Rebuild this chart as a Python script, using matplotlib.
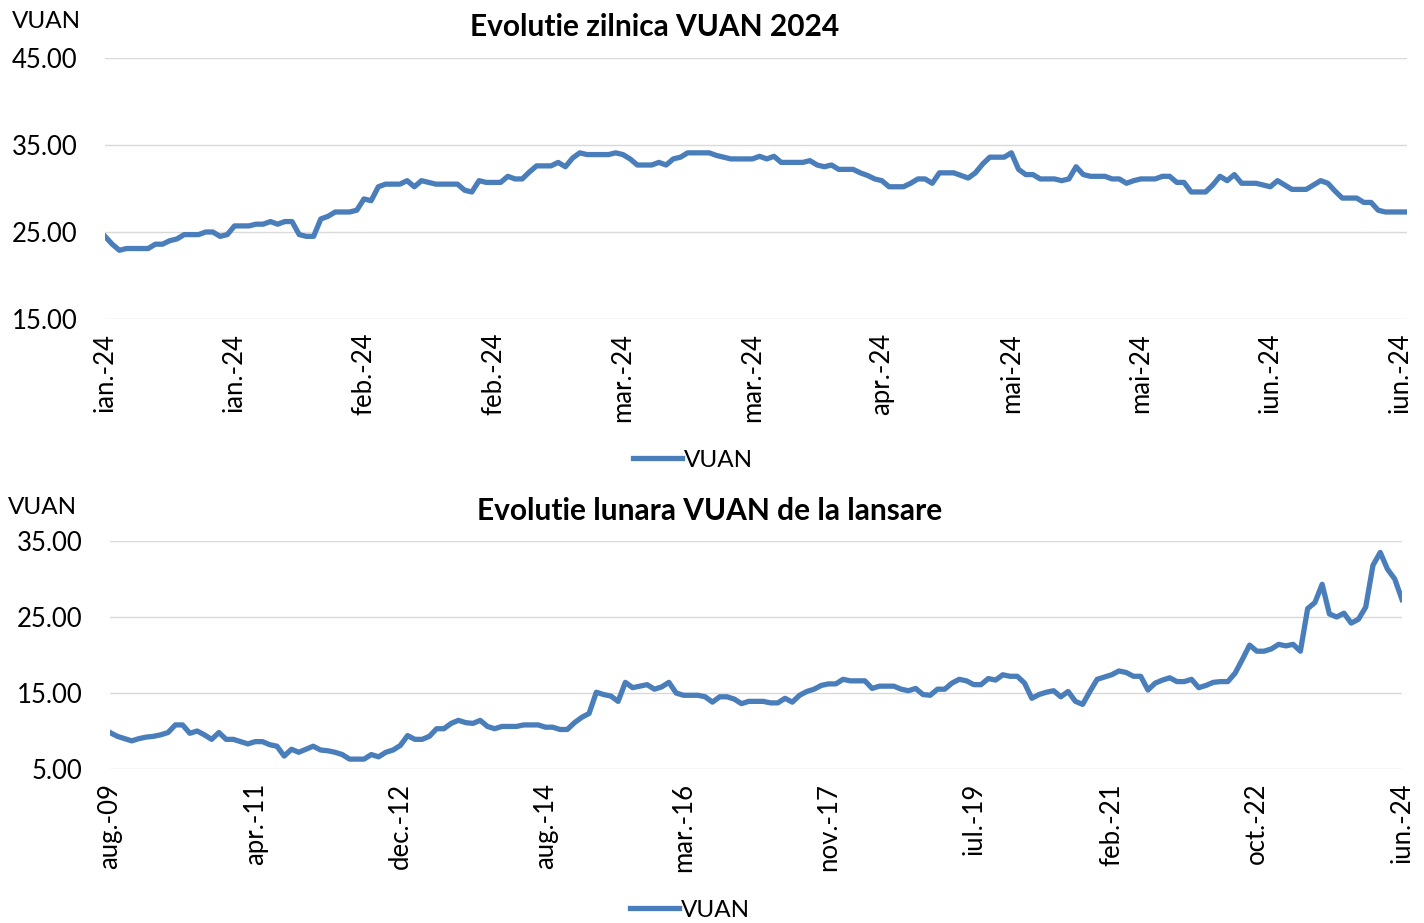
import numpy as np
import matplotlib
matplotlib.use('Agg')
import matplotlib.pyplot as plt

plt.rcParams['font.family'] = ['Lato', 'DejaVu Sans']

# ---- data: daily 2024 (day offset from 1 Jan 2024) ----
zilnic_start = np.datetime64('2024-01-01')
zilnic_val = [
    24.5, 23.6, 22.9, 23.1, 23.1, 23.1, 23.1, 23.6, 23.6, 24.0,
    24.2, 24.7, 24.7, 24.7, 25.0, 25.0, 24.5, 24.7, 25.7, 25.7,
    25.7, 25.9, 25.9, 26.2, 25.9, 26.2, 26.2, 24.7, 24.5, 24.5,
    26.5, 26.8, 27.3, 27.3, 27.3, 27.5, 28.8, 28.6, 30.2, 30.5,
    30.5, 30.5, 30.9, 30.2, 30.9, 30.7, 30.5, 30.5, 30.5, 30.5,
    29.8, 29.6, 30.9, 30.7, 30.7, 30.7, 31.4, 31.1, 31.1, 31.9,
    32.6, 32.6, 32.6, 33.0, 32.5, 33.5, 34.1, 33.9, 33.9, 33.9,
    33.9, 34.1, 33.9, 33.4, 32.7, 32.7, 32.7, 33.0, 32.7, 33.4,
    33.6, 34.1, 34.1, 34.1, 34.1, 33.8, 33.6, 33.4, 33.4, 33.4,
    33.4, 33.7, 33.4, 33.7, 33.0, 33.0, 33.0, 33.0, 33.2, 32.7,
    32.5, 32.7, 32.2, 32.2, 32.2, 31.8, 31.5, 31.1, 30.9, 30.2,
    30.2, 30.2, 30.6, 31.1, 31.1, 30.6, 31.8, 31.8, 31.8, 31.5,
    31.2, 31.8, 32.8, 33.6, 33.6, 33.6, 34.1, 32.2, 31.6, 31.6,
    31.1, 31.1, 31.1, 30.9, 31.1, 32.5, 31.6, 31.4, 31.4, 31.4,
    31.1, 31.1, 30.6, 30.9, 31.1, 31.1, 31.1, 31.4, 31.4, 30.7,
    30.7, 29.6, 29.6, 29.6, 30.4, 31.4, 30.9, 31.6, 30.6, 30.6,
    30.6, 30.4, 30.2, 30.9, 30.4, 29.9, 29.9, 29.9, 30.4, 30.9,
    30.6, 29.7, 28.9, 28.9, 28.9, 28.4, 28.4, 27.5, 27.3, 27.3,
    27.3, 27.3,
]
zilnic_tick_step = 18  # days between labels

# ---- data: monthly since launch (aug 2009 .. iun 2024) ----
lunar_start = np.datetime64('2009-08')
lunar_val = [
    9.8, 9.3, 9.0, 8.7, 9.0, 9.2, 9.3, 9.5, 9.8, 10.8,
    10.8, 9.7, 10.0, 9.5, 8.9, 9.8, 8.9, 8.9, 8.6, 8.3,
    8.6, 8.6, 8.2, 8.0, 6.7, 7.6, 7.2, 7.6, 8.0, 7.5,
    7.4, 7.2, 6.9, 6.3, 6.3, 6.3, 6.9, 6.6, 7.2, 7.5,
    8.1, 9.4, 8.9, 8.9, 9.3, 10.3, 10.3, 11.0, 11.4, 11.1,
    11.0, 11.4, 10.6, 10.3, 10.6, 10.6, 10.6, 10.8, 10.8, 10.8,
    10.5, 10.5, 10.2, 10.2, 11.1, 11.8, 12.3, 15.1, 14.8, 14.6,
    13.9, 16.4, 15.7, 15.9, 16.1, 15.5, 15.8, 16.4, 15.0, 14.7,
    14.7, 14.7, 14.5, 13.8, 14.5, 14.5, 14.2, 13.6, 13.9, 13.9,
    13.9, 13.7, 13.7, 14.3, 13.8, 14.7, 15.2, 15.5, 16.0, 16.2,
    16.2, 16.8, 16.6, 16.6, 16.6, 15.6, 15.9, 15.9, 15.9, 15.5,
    15.3, 15.6, 14.8, 14.7, 15.5, 15.5, 16.3, 16.8, 16.6, 16.1,
    16.1, 16.9, 16.7, 17.4, 17.2, 17.2, 16.3, 14.3, 14.8, 15.1,
    15.3, 14.5, 15.2, 13.9, 13.5, 15.2, 16.8, 17.1, 17.4, 17.9,
    17.7, 17.2, 17.2, 15.4, 16.3, 16.7, 17.0, 16.5, 16.5, 16.8,
    15.7, 16.0, 16.4, 16.5, 16.5, 17.6, 19.4, 21.3, 20.5, 20.5,
    20.8, 21.4, 21.2, 21.4, 20.5, 26.1, 26.9, 29.3, 25.4, 25.0,
    25.5, 24.2, 24.7, 26.3, 31.8, 33.5, 31.3, 30.0, 27.3,
]
lunar_ticks = ['2009-08', '2011-04', '2012-12', '2014-08', '2016-03',
               '2017-11', '2019-07', '2021-02', '2022-10', '2024-06']

luni = ['ian.', 'feb.', 'mar.', 'apr.', 'mai', 'iun.',
        'iul.', 'aug.', 'sep.', 'oct.', 'nov.', 'dec.']

def eticheta(d):
    m = d.astype('datetime64[M]').astype(int)
    an, luna = divmod(m, 12)
    return '{}-{:02d}'.format(luni[luna], (1970 + an) % 100)

culoare = '#4A7EBB'
grila = '#D9D9D9'
W, H = 1424, 923
fig = plt.figure(figsize=(W / 100, H / 100), dpi=100)

def stil(ax):
    for s in ax.spines.values():
        s.set_visible(False)
    ax.tick_params(length=0, labelsize=18.5)
    ax.tick_params(axis='y', pad=20)
    ax.tick_params(axis='x', pad=10)
    ax.grid(axis='y', color=grila, lw=1)
    ax.set_axisbelow(True)
    ax.yaxis.set_major_formatter(lambda v, p: '{:.2f}'.format(v))

# top chart
ax1 = fig.add_axes([105 / W, 1 - 319 / H, 1302 / W, 261 / H])
x1 = np.arange(len(zilnic_val))
ax1.plot(x1, zilnic_val, color=culoare, lw=3.8, label='VUAN')
ax1.set_ylim(15, 45)
ax1.set_yticks([15, 25, 35, 45])
ax1.set_xlim(0, len(zilnic_val) - 1)
t1 = np.arange(0, len(zilnic_val), zilnic_tick_step)
ax1.set_xticks(t1)
ax1.set_xticklabels([eticheta(zilnic_start + int(t)) for t in t1], rotation=90)
stil(ax1)
ax1.legend(loc='center', bbox_to_anchor=(588 / 1302, -141 / 261), frameon=False,
           fontsize=17.5, handlelength=2.0, handletextpad=0.1)
fig.text(655 / W, 1 - 27 / H, 'Evolutie zilnica VUAN 2024', ha='center', va='center',
         fontsize=21.5, fontweight='bold')
fig.text(12 / W, 1 - 22 / H, 'VUAN', ha='left', va='center', fontsize=17.5)

# bottom chart
ax2 = fig.add_axes([110 / W, 1 - 769 / H, 1292 / W, 228 / H])
x2 = np.arange(len(lunar_val))
ax2.plot(x2, lunar_val, color=culoare, lw=3.8, label='VUAN')
ax2.set_ylim(5, 35)
ax2.set_yticks([5, 15, 25, 35])
ax2.set_xlim(0, len(lunar_val) - 1)
t2 = [(np.datetime64(t) - lunar_start).astype(int) for t in lunar_ticks]
ax2.set_xticks(t2)
ax2.set_xticklabels([eticheta(np.datetime64(t)) for t in lunar_ticks], rotation=90)
stil(ax2)
ax2.legend(loc='center', bbox_to_anchor=(580 / 1292, -141 / 228), frameon=False,
           fontsize=17.5, handlelength=2.0, handletextpad=0.1)
fig.text(710 / W, 1 - 511 / H, 'Evolutie lunara VUAN de la lansare', ha='center', va='center',
         fontsize=21.5, fontweight='bold')
fig.text(8 / W, 1 - 507 / H, 'VUAN', ha='left', va='center', fontsize=17.5)

fig.savefig('out.png', dpi=100)
